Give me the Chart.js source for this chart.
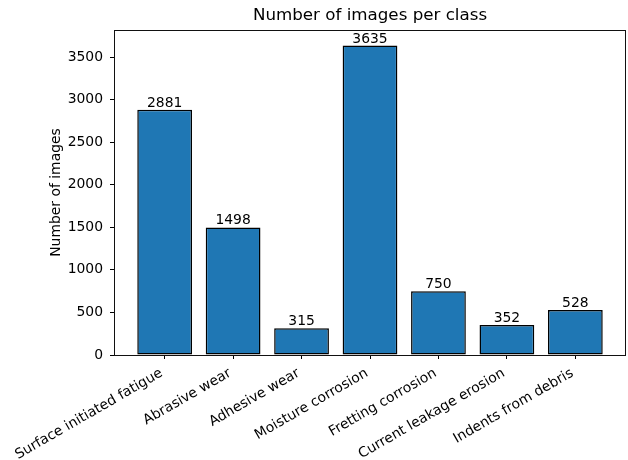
<!DOCTYPE html>
<html>
<head>
<meta charset="utf-8">
<script src="https://cdn.jsdelivr.net/npm/chart.js@4/dist/chart.umd.min.js"></script>
<style>
  html, body { margin: 0; padding: 0; background: #ffffff; }
  #wrap { width: 628px; height: 460px; }
</style>
</head>
<body>
<div id="wrap"><canvas id="c" width="628" height="460"></canvas></div>
<script>
// Image counts per defect class
const categories = [
  'Surface initiated fatigue',
  'Abrasive wear',
  'Adhesive wear',
  'Moisture corrosion',
  'Fretting corrosion',
  'Current leakage erosion',
  'Indents from debris'
];
const counts = [2881, 1498, 315, 3635, 750, 352, 528];
const yTickValues = [0, 500, 1000, 1500, 2000, 2500, 3000, 3500];

const FONT = '"DejaVu Sans", sans-serif';
const BAR_COLOR = '#1f77b4';

// x range: bars of width 0.8 plus a 5% margin on each side
const barW = 0.8;
const span = (categories.length - 1) + barW;
const xMin = -barW / 2 - 0.05 * span;
const xMax = categories.length - 1 + barW / 2 + 0.05 * span;
const yMax = Math.max(...counts) * 1.05;

// Frame around the plot area and value labels on top of each bar
const framePlugin = {
  id: 'frameAndLabels',
  afterDatasetsDraw(chart) {
    const { ctx, chartArea: a } = chart;
    ctx.save();
    ctx.font = '13.9px ' + FONT;
    ctx.fillStyle = '#000';
    ctx.textAlign = 'center';
    ctx.textBaseline = 'alphabetic';
    chart.getDatasetMeta(0).data.forEach((bar, i) => {
      ctx.fillText(String(counts[i]), bar.x, bar.y - 3);
    });
    ctx.strokeStyle = '#111';
    ctx.lineWidth = 1;
    ctx.strokeRect(Math.round(a.left) + 0.5, Math.round(a.top) + 0.5,
                   Math.round(a.right - a.left) - 1, Math.round(a.bottom - a.top));
    ctx.restore();
  }
};

new Chart(document.getElementById('c'), {
  type: 'bar',
  data: {
    datasets: [{
      data: counts.map((v, i) => ({ x: i, y: v })),
      backgroundColor: BAR_COLOR,
      borderColor: '#000',
      borderWidth: 1.5,
      borderSkipped: false,
      categoryPercentage: 1,
      barPercentage: barW
    }]
  },
  options: {
    responsive: false,
    animation: false,
    devicePixelRatio: 1,
    layout: { padding: { left: 0, right: 2, top: 0, bottom: 0 } },
    plugins: {
      legend: { display: false },
      tooltip: { enabled: false },
      title: {
        display: true,
        text: 'Number of images per class',
        fullSize: false,
        color: '#000',
        font: { family: FONT, size: 16.7, weight: 'normal' },
        padding: { top: 6, bottom: 4 }
      }
    },
    scales: {
      x: {
        type: 'linear',
        offset: false,
        min: xMin,
        max: xMax,
        afterBuildTicks: (s) => { s.ticks = categories.map((_, i) => ({ value: i })); },
        afterFit: (s) => { s.height = 105; s.paddingLeft = 0; s.paddingRight = 0; },
        ticks: {
          autoSkip: false,
          minRotation: 30,
          maxRotation: 30,
          padding: 6,
          labelOffset: -3,
          color: '#000',
          font: { family: FONT, size: 13.9 },
          callback: (v) => categories[v]
        },
        grid: { display: true, offset: false, drawOnChartArea: false, drawTicks: true, tickLength: 4, color: '#000' },
        border: { display: false }
      },
      y: {
        type: 'linear',
        min: 0,
        max: yMax,
        afterBuildTicks: (s) => { s.ticks = yTickValues.map(v => ({ value: v })); },
        afterFit: (s) => { s.width = 114; s.paddingTop = 0; s.paddingBottom = 0; },
        ticks: {
          padding: 7,
          color: '#000',
          font: { family: FONT, size: 13.9 },
          callback: (v) => String(v)
        },
        grid: { display: true, drawOnChartArea: false, drawTicks: true, tickLength: 4, color: '#000' },
        border: { display: false },
        title: {
          display: true,
          text: 'Number of images',
          color: '#000',
          font: { family: FONT, size: 13.9 },
          padding: { top: 48, bottom: 0 }
        }
      }
    }
  },
  plugins: [framePlugin]
});
</script>
</body>
</html>
